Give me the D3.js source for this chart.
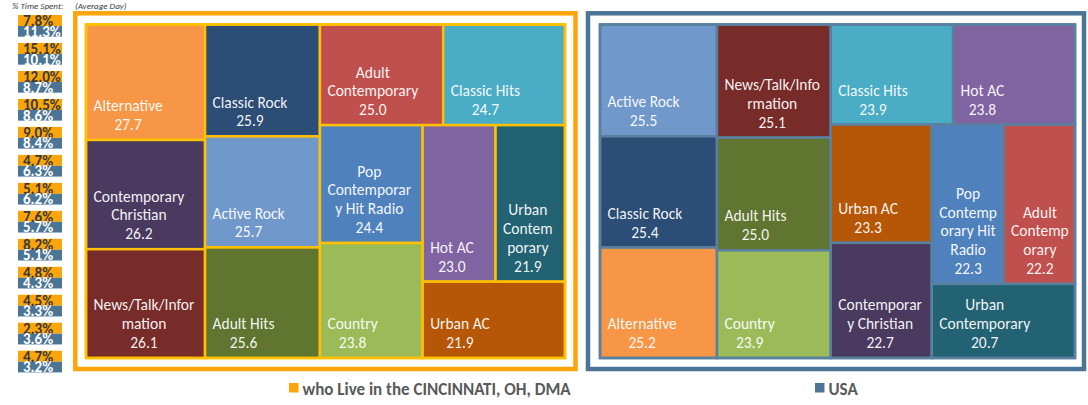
<!DOCTYPE html>
<html><head><meta charset="utf-8">
<script src="https://cdn.jsdelivr.net/npm/d3@7"></script>
<style>body{margin:0;background:#fff}svg{display:block}</style>
</head><body>
<svg id="c" width="1088" height="405"></svg>
<script>
// ---------- data ----------
const cinciGenres = ["Alternative","Contemporary Christian","News/Talk/Information","Classic Rock","Active Rock","Adult Hits","Adult Contemporary","Classic Hits","Pop Contemporary Hit Radio","Country","Hot AC","Urban Contemporary","Urban AC"];
const cinciValues = [27.7,26.2,26.1,25.9,25.7,25.6,25.0,24.7,24.4,23.8,23.0,21.9,21.9];
const cinciLabels = ["Alternative","Contemporary|Christian","News/Talk/Infor|mation","Classic Rock","Active Rock","Adult Hits","Adult|Contemporary","Classic Hits","Pop|Contemporar|y Hit Radio","Country","Hot AC","Urban|Contem|porary","Urban AC"];

const usaGenres = ["Active Rock","Classic Rock","Alternative","News/Talk/Information","Adult Hits","Country","Classic Hits","Hot AC","Urban AC","Contemporary Christian","Pop Contemporary Hit Radio","Adult Contemporary","Urban Contemporary"];
const usaValues = [25.5,25.4,25.2,25.1,25.0,23.9,23.9,23.8,23.3,22.7,22.3,22.2,20.7];
const usaLabels = ["Active Rock","Classic Rock","Alternative","News/Talk/Info|rmation","Adult Hits","Country","Classic Hits","Hot AC","Urban AC","Contemporar|y Christian","Pop|Contemp|orary Hit|Radio","Adult|Contemp|orary","Urban|Contemporary"];

const shareCinci = ["7.8%","15.1%","12.0%","10.5%","9.0%","4.7%","5.1%","7.6%","8.2%","4.8%","4.5%","2.3%","4.7%"];
const shareUsa   = ["11.3%","10.1%","8.7%","8.6%","8.4%","6.3%","6.2%","5.7%","5.1%","4.3%","3.3%","3.6%","3.2%"];

const legendLabels = ["who Live in the CINCINNATI, OH, DMA","USA"];

// ---------- styles ----------
const genreColor = d3.scaleOrdinal()
  .domain(["Alternative","Classic Rock","Adult Contemporary","Classic Hits","Contemporary Christian","Active Rock","Pop Contemporary Hit Radio","Hot AC","Urban Contemporary","News/Talk/Information","Adult Hits","Country","Urban AC"])
  .range(["#F79646","#2C4D75","#C0504D","#4BACC6","#4A3A5F","#7098CA","#4F81BD","#8064A2","#236273","#772C2A","#5F7530","#9BBB59","#B65708"]);
const ORANGE = "#FBA50A", YELLOW = "#FFC000", BLUE = "#4C7595", BLUE_LINE = "#5A80A0";
const FONT = "Carlito, Lato, 'Open Sans', sans-serif";

const svg = d3.select("#c");

// ---------- header notes ----------
svg.append("text").attr("x", 12).attr("y", 8.5).attr("font-family", FONT).attr("font-style","italic")
  .attr("font-size", 9).attr("fill", "#404040").text("% Time Spent:");
svg.append("text").attr("x", 75).attr("y", 8.5).attr("font-family", FONT).attr("font-style","italic")
  .attr("font-size", 9).attr("fill", "#404040").text("(Average Day)");

// ---------- share badges ----------
const rowY = d3.scalePoint().domain(d3.range(shareCinci.length)).range([15, 350.7]);
const badges = svg.append("g").selectAll("g").data(d3.range(shareCinci.length)).join("g")
  .attr("transform", i => `translate(18,${rowY(i)})`);
badges.append("rect").attr("width", 44).attr("height", 11).attr("fill", ORANGE);
badges.append("rect").attr("y", 11).attr("width", 44).attr("height", 10.7).attr("fill", BLUE);
badges.append("text").attr("x", 5).attr("y", 10.8).attr("font-family", FONT).attr("font-weight", "bold")
  .attr("font-size", 15).attr("fill", "#3a3a3a").text(i => shareCinci[i]);
badges.append("text").attr("x", 5).attr("y", 21.6).attr("font-family", FONT).attr("font-weight", "bold")
  .attr("font-size", 15).attr("fill", "#ffffff").text(i => shareUsa[i]);

// ---------- treemaps ----------
function drawTreemap(genres, values, labels, box, frame, sepColor, outerColor) {
  const [x0, y0, x1, y1] = box;
  const w = x1 - x0, h = y1 - y0;
  const data = {children: genres.map((g, i) => ({name: g, value: values[i], label: labels[i]}))};
  const root = d3.hierarchy(data).sum(d => d.value || 0).sort((a, b) => b.value - a.value);
  d3.treemap().tile(d3.treemapSquarify.ratio(1.2)).size([w, h]).round(false)(root);

  // outer frame
  svg.append("rect").attr("x", frame[0]).attr("y", frame[1])
    .attr("width", frame[2] - frame[0]).attr("height", frame[3] - frame[1])
    .attr("fill", "none").attr("stroke", outerColor).attr("stroke-width", 4.5);

  const g = svg.append("g").attr("transform", `translate(${x0},${y0})`);
  const cells = g.selectAll("g").data(root.leaves()).join("g");
  cells.append("rect")
    .attr("x", d => d.x0).attr("y", d => d.y0)
    .attr("width", d => d.x1 - d.x0).attr("height", d => d.y1 - d.y0)
    .attr("fill", d => genreColor(d.data.name))
    .attr("stroke", sepColor).attr("stroke-width", 2.5);

  // inner frame
  g.append("rect").attr("width", w).attr("height", h).attr("fill", "none")
    .attr("stroke", sepColor).attr("stroke-width", 2.5);

  cells.each(function(d) {
    const lines = d.data.label.split("|").concat([d3.format(".1f")(d.value)]);
    const t = d3.select(this).append("text").attr("font-family", FONT).attr("font-size", 15.5)
      .attr("fill", "#ffffff").attr("fill-opacity", 0.95).attr("text-anchor", "middle");
    const n = lines.length;
    const spans = lines.map((ln, i) => t.append("tspan").attr("y", d.y1 - 10 - (n - 1 - i) * 18.8).text(ln));
    const maxW = d3.max(spans, s => s.node().getComputedTextLength());
    spans.forEach(s => s.attr("x", d.x0 + 7.5 + maxW / 2));
  });
}

drawTreemap(cinciGenres, cinciValues, cinciLabels, [86, 24.5, 565, 358], [75.3, 13.3, 575.5, 369], YELLOW, ORANGE);
drawTreemap(usaGenres, usaValues, usaLabels, [600, 24.5, 1075, 358], [588, 13.3, 1084, 369], BLUE_LINE, BLUE);

// ---------- legend ----------
const legendX = [289, 815];
const legendC = [ORANGE, BLUE];
legendLabels.forEach((lab, i) => {
  svg.append("rect").attr("x", legendX[i]).attr("y", 383).attr("width", 9.5).attr("height", 9.5).attr("fill", legendC[i]);
  svg.append("text").attr("x", legendX[i] + 13.5).attr("y", 394.5).attr("font-family", FONT).attr("font-weight", "bold")
    .attr("font-size", 17).attr("fill", "#595959").text(lab);
});
</script>
</body></html>
